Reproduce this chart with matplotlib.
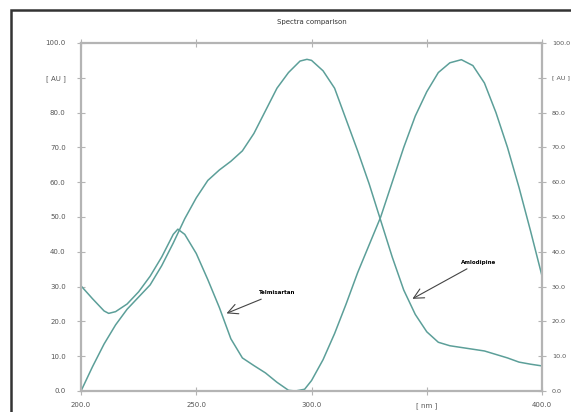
import matplotlib.pyplot as plt
from matplotlib.patches import Rectangle
from matplotlib.transforms import ScaledTranslation

# Wavelength grid (nm) and absorbance (AU)
wl_telmi = [200, 205, 210, 212, 215, 220, 225, 230, 235, 240, 242, 245, 250, 255,
            260, 265, 270, 275, 280, 285, 290, 293, 297, 300, 305, 310, 315, 320,
            325, 330, 335, 340, 345, 350, 355, 360, 365, 370, 375, 380, 385, 390,
            395, 400]
au_telmi = [30.2, 26.5, 23.0, 22.3, 22.8, 25.0, 28.5, 33.0, 38.5, 45.0, 46.5, 45.0,
            39.5, 32.0, 24.0, 15.0, 9.5, 7.3, 5.2, 2.5, 0.2, 0.0, 0.5, 3.0, 9.0,
            16.5, 25.0, 34.0, 42.0, 50.0, 60.0, 70.0, 79.0, 86.0, 91.5, 94.3, 95.2,
            93.5, 88.5, 80.0, 70.0, 58.5, 46.0, 33.0]

wl_amlo = [200, 205, 210, 215, 220, 225, 230, 235, 240, 245, 250, 255, 260, 265,
           270, 275, 280, 285, 290, 295, 298, 300, 305, 310, 315, 320, 325, 330,
           335, 340, 345, 350, 355, 360, 365, 370, 375, 380, 385, 390, 395, 400]
au_amlo = [0.0, 7.0, 13.5, 19.0, 23.5, 27.0, 30.5, 36.0, 42.5, 49.5, 55.5, 60.5,
           63.5, 66.0, 69.0, 74.0, 80.5, 87.0, 91.5, 94.8, 95.3, 95.0, 92.0, 87.0,
           78.0, 69.0, 59.5, 49.0, 38.5, 29.0, 22.0, 17.0, 14.0, 13.0, 12.5, 12.0,
           11.5, 10.5, 9.5, 8.3, 7.7, 7.2]

x_ticks = [200, 250, 300, 350, 400]
x_labels = ["200.0", "250.0", "300.0", "[ nm ]", "400.0"]
y_ticks = [0, 10, 20, 30, 40, 50, 60, 70, 80, 90, 100]
y_labels = ["0.0", "10.0", "20.0", "30.0", "40.0", "50.0", "60.0", "70.0",
            "80.0", "[ AU ]", "100.0"]

line_col = "#5c9f99"
axis_col = "#b4b4b4"
text_col = "#555555"

fig = plt.figure(figsize=(5.71, 4.12), dpi=100)
ax = fig.add_axes([0.1419, 0.051, 0.8074, 0.8447])

ax.plot(wl_telmi, au_telmi, color=line_col, lw=1.1)
ax.plot(wl_amlo, au_amlo, color=line_col, lw=1.1)

ax.set_xlim(200, 400)
ax.set_ylim(0, 100)
ax.set_xticks(x_ticks)
ax.set_xticklabels(x_labels)
ax.set_yticks(y_ticks)
ax.set_yticklabels(y_labels)

for s in ax.spines.values():
    s.set_color(axis_col)
    s.set_linewidth(1.6)

ax.tick_params(axis="both", direction="inout", length=6, width=0.8, color=axis_col,
               labelsize=5, labelcolor=text_col, top=True, right=True,
               labelright=True)
ax.tick_params(axis="y", pad=8)
ax.tick_params(axis="x", pad=5)

ax.set_title("Spectra comparison", fontsize=5, color="#333333", pad=14)

arrow = dict(arrowstyle="->", color="#444444", lw=0.8, mutation_scale=18)
ax.annotate("Telmisartan", xy=(262, 22), xytext=(277, 28.2), fontsize=4,
            fontweight="bold", va="center", ha="left", arrowprops=arrow)
ax.annotate("Amlodipine", xy=(342.7, 26.1), xytext=(365, 37), fontsize=4,
            fontweight="bold", va="center", ha="left", arrowprops=arrow)

# outer frame (runs off the right and bottom edges)
fig.patches.append(Rectangle((11 / 571, -0.05), 1.1, 1 - 10 / 412 + 0.05,
                             transform=fig.transFigure, fill=False,
                             edgecolor="#333333", lw=1.8))

# right-hand labels a bit smaller and nudged in so they stay inside the picture
shift = ScaledTranslation(-4 / 72, 0, fig.dpi_scale_trans)
for t in ax.yaxis.get_major_ticks():
    t.label2.set_fontsize(4.6)
    t.label2.set_transform(t.label2.get_transform() + shift)

fig.savefig("out.png", dpi=100)
